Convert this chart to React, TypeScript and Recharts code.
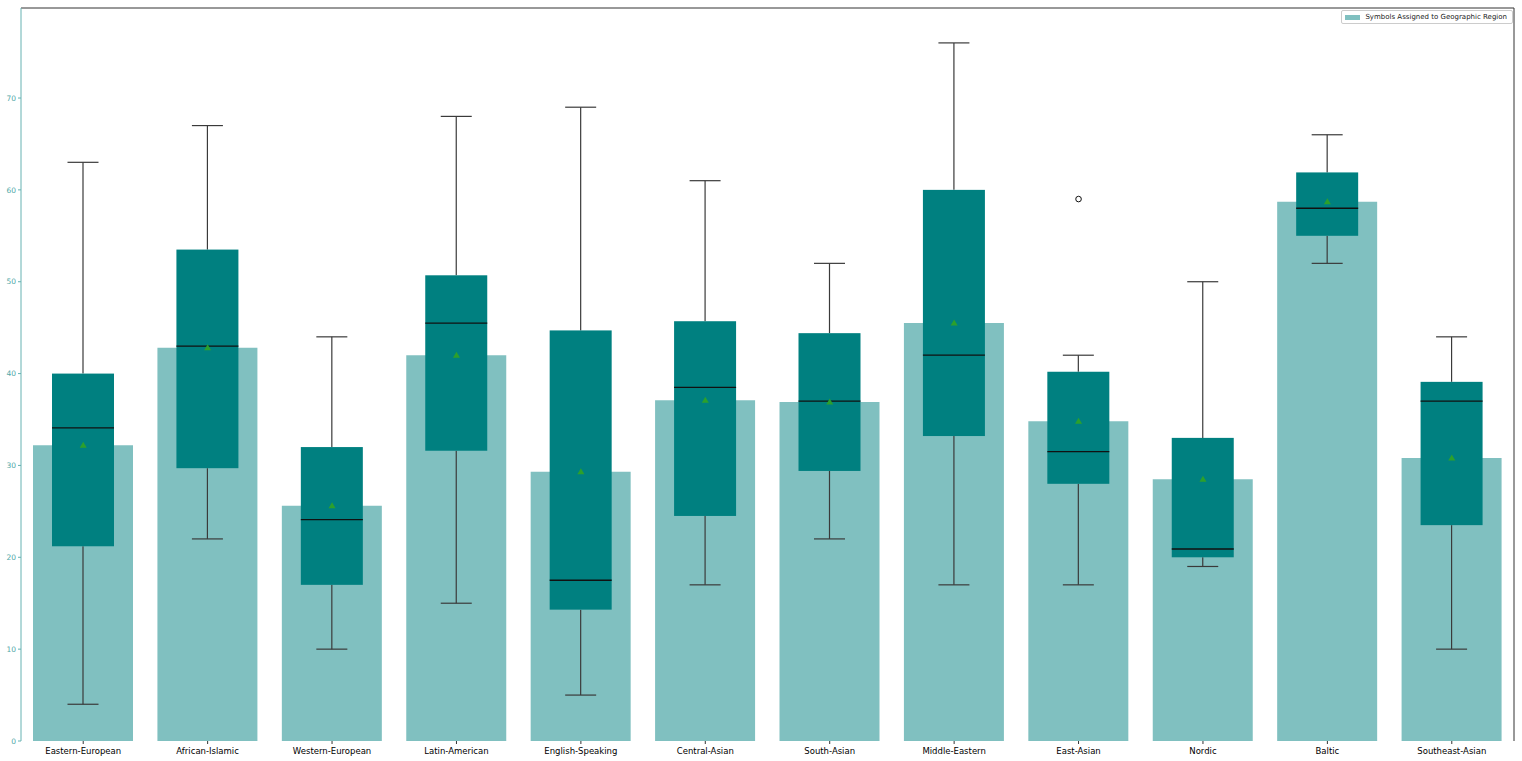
import {
  Bar,
  ComposedChart,
  Legend,
  Scatter,
  XAxis,
  YAxis,
} from 'recharts'

const regions = [
  'Eastern-European', 'African-Islamic', 'Western-European', 'Latin-American',
  'English-Speaking', 'Central-Asian', 'South-Asian', 'Middle-Eastern',
  'East-Asian', 'Nordic', 'Baltic', 'Southeast-Asian',
]
const means = [32.2, 42.8, 25.6, 42.0, 29.3, 37.1, 36.9, 45.5, 34.8, 28.5, 58.7, 30.8]
const whiskerLow = [4, 22, 10, 15, 5, 17, 22, 17, 17, 19, 52, 10]
const whiskerHigh = [63, 67, 44, 68, 69, 61, 52, 76, 42, 50, 66, 44]
const q1 = [21.2, 29.7, 17.0, 31.6, 14.3, 24.5, 29.4, 33.2, 28.0, 20.0, 55.0, 23.5]
const q3 = [40.0, 53.5, 32.0, 50.7, 44.7, 45.7, 44.4, 60.0, 40.2, 33.0, 61.9, 39.1]
const medians = [34.1, 43.0, 24.1, 45.5, 17.5, 38.5, 37.0, 42.0, 31.5, 20.9, 58.0, 37.0]
const outliers: (number | null)[] = [null, null, null, null, null, null, null, null, 59, null, null, null]
const yTicks = [0, 10, 20, 30, 40, 50, 60, 70]

const data = regions.map((region, i) => ({
  region,
  mean: means[i],
  range: [whiskerLow[i], whiskerHigh[i]],
  lo: whiskerLow[i],
  hi: whiskerHigh[i],
  q1: q1[i],
  q3: q3[i],
  med: medians[i],
  outlier: outliers[i],
}))

const font = 'DejaVu Sans, sans-serif'
const teal = '#008080'
const whiskerColor = '#3a3a3a'

// box + whiskers, positioned from the [lo, hi] range bar the library lays out
function BoxShape(props: any) {
  const { x, y, width, height, payload } = props
  if (x == null || y == null) return null
  const top = Math.min(y, y + height)
  const h = Math.abs(height)
  const k = h / (payload.hi - payload.lo)
  const py = (v: number) => top + (payload.hi - v) * k
  const cx = x + width / 2
  const cap = width / 4
  return (
    <g>
      <line x1={cx} x2={cx} y1={py(payload.hi)} y2={py(payload.q3)} stroke={whiskerColor} strokeWidth={1.2} />
      <line x1={cx} x2={cx} y1={py(payload.q1)} y2={py(payload.lo)} stroke={whiskerColor} strokeWidth={1.2} />
      <line x1={cx - cap} x2={cx + cap} y1={py(payload.hi)} y2={py(payload.hi)} stroke={whiskerColor} strokeWidth={1.2} />
      <line x1={cx - cap} x2={cx + cap} y1={py(payload.lo)} y2={py(payload.lo)} stroke={whiskerColor} strokeWidth={1.2} />
      <rect x={x} y={py(payload.q3)} width={width} height={py(payload.q1) - py(payload.q3)} fill={teal} />
      <line x1={x} x2={x + width} y1={py(payload.med)} y2={py(payload.med)} stroke="#111" strokeWidth={1.3} />
    </g>
  )
}

function MeanMarker(props: any) {
  const { cx, cy } = props
  if (cx == null || cy == null || isNaN(cy)) return null
  return <path d={`M${cx},${cy - 3.5} L${cx + 3.5},${cy + 2.5} L${cx - 3.5},${cy + 2.5} Z`} fill="#2ca02c" />
}

function OutlierMarker(props: any) {
  const { cx, cy, payload } = props
  if (payload?.outlier == null || cy == null || isNaN(cy)) return <g />
  return <circle cx={cx} cy={cy} r={2.8} fill="none" stroke="#111" strokeWidth={1} />
}

function RegionTick(props: any) {
  const { x, payload } = props
  return (
    <g>
      <line x1={x} x2={x} y1={741} y2={744} stroke="#333" />
      <text x={x} y={754} textAnchor="middle" fill="#000" fontSize={8.5} fontFamily={font}>
        {payload.value}
      </text>
    </g>
  )
}

function LegendBox() {
  return (
    <div
      style={{
        border: '1px solid #ccc',
        background: '#fff',
        padding: '2px 5px 2px 3px',
        fontFamily: font,
        fontSize: 7,
        color: '#222',
        display: 'flex',
        alignItems: 'center',
        borderRadius: 2,
      }}
    >
      <span style={{ display: 'inline-block', width: 15, height: 5, background: '#80c0c0', marginRight: 5 }} />
      Symbols Assigned to Geographic Region
    </div>
  )
}

export default function App() {
  return (
    <div style={{ position: 'absolute', left: 0, top: 0, background: '#fff' }}>
      <ComposedChart
        width={1522}
        height={761}
        data={data}
        margin={{ top: 7, right: 7, left: 0, bottom: 0 }}
      >
        <XAxis
          dataKey="region"
          xAxisId="main"
          height={20}
          interval={0}
          tick={RegionTick}
          tickLine={false}
          axisLine={{ stroke: '#333' }}
        />
        <XAxis dataKey="region" xAxisId="box" hide />
        <XAxis dataKey="region" xAxisId="top" orientation="top" height={1} tick={false} tickLine={false} axisLine={{ stroke: '#333' }} />
        <YAxis
          yAxisId="main"
          domain={[0, 79.8]}
          ticks={yTicks}
          width={21}
          tick={{ fill: '#4fa8a8', fontSize: 7.5, fontFamily: font }}
          tickSize={3}
          tickLine={{ stroke: '#66b2b2' }}
          axisLine={{ stroke: '#66b2b2' }}
        />
        <YAxis yAxisId="right" orientation="right" width={1} tick={false} tickLine={false} axisLine={{ stroke: '#333' }} />
        <Bar
          xAxisId="main"
          yAxisId="main"
          dataKey="mean"
          name="Symbols Assigned to Geographic Region"
          fill="#80c0c0"
          barSize={100}
          isAnimationActive={false}
        />
        <Bar
          xAxisId="box"
          yAxisId="main"
          dataKey="range"
          barSize={62}
          shape={BoxShape}
          legendType="none"
          isAnimationActive={false}
        />
        <Scatter xAxisId="box" yAxisId="main" dataKey="mean" shape={MeanMarker} legendType="none" isAnimationActive={false} />
        <Scatter xAxisId="box" yAxisId="main" dataKey="outlier" shape={OutlierMarker} legendType="none" isAnimationActive={false} />
        <Legend
          layout="horizontal"
          verticalAlign="middle"
          align="center"
          content={() => <LegendBox />}
          wrapperStyle={{ top: 10, right: 9, left: 'auto', width: 'auto', height: 'auto' }}
        />
      </ComposedChart>
    </div>
  )
}
